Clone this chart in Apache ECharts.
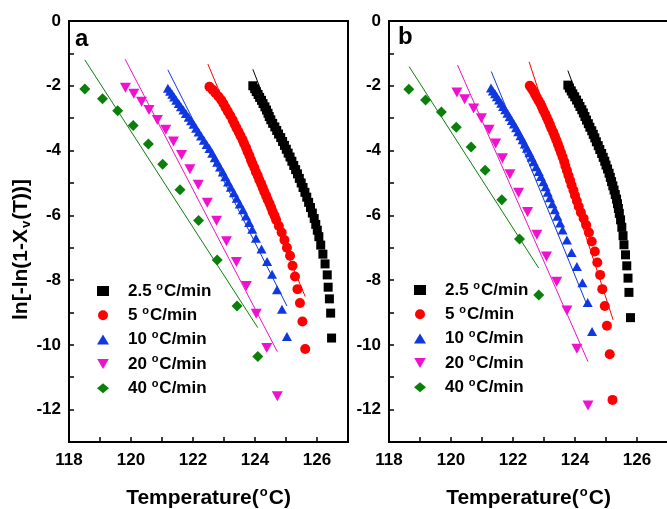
<!DOCTYPE html>
<html><head><meta charset="utf-8">
<script src="https://cdn.jsdelivr.net/npm/echarts@6/dist/echarts.min.js"></script>
<style>html,body{margin:0;padding:0;background:#fff;overflow:hidden}#c{width:690px;height:509px}</style>
</head><body><div id="c"></div>
<script>
// ---- data ----
const rateNames = ['2.5 °C/min', '5 °C/min', '10 °C/min', '20 °C/min', '40 °C/min'];
const xTicks = [118, 120, 122, 124, 126];

// panel a : [T (°C), ln[-ln(1-Xv(T))]]
const a25 = [[123.93,-2.00],[123.99,-2.09],[124.04,-2.18],[124.10,-2.27],[124.15,-2.36],[124.21,-2.45],[124.26,-2.55],[124.32,-2.65],[124.37,-2.75],[124.42,-2.85],[124.46,-2.95],[124.51,-3.05],[124.57,-3.16],[124.64,-3.27],[124.70,-3.38],[124.76,-3.49],[124.83,-3.60],[124.89,-3.72],[124.95,-3.84],[125.01,-3.96],[125.07,-4.08],[125.13,-4.20],[125.19,-4.33],[125.25,-4.46],[125.31,-4.59],[125.37,-4.72],[125.43,-4.86],[125.49,-5.00],[125.55,-5.14],[125.61,-5.29],[125.67,-5.44],[125.73,-5.60],[125.79,-5.76],[125.85,-5.93],[125.91,-6.10],[125.96,-6.28],[126.01,-6.46],[126.06,-6.66],[126.12,-6.92],[126.19,-7.20],[126.26,-7.50],[126.33,-7.84],[126.36,-8.22],[126.40,-8.58],[126.44,-9.02],[126.47,-9.79]];
const a5 = [[122.53,-2.03],[122.63,-2.12],[122.72,-2.22],[122.82,-2.33],[122.91,-2.44],[122.98,-2.55],[123.05,-2.67],[123.12,-2.79],[123.20,-2.92],[123.28,-3.06],[123.34,-3.18],[123.40,-3.30],[123.47,-3.42],[123.53,-3.54],[123.60,-3.67],[123.65,-3.79],[123.71,-3.91],[123.76,-4.04],[123.82,-4.16],[123.87,-4.29],[123.92,-4.41],[123.98,-4.53],[124.03,-4.66],[124.09,-4.78],[124.14,-4.91],[124.20,-5.03],[124.25,-5.15],[124.30,-5.27],[124.36,-5.40],[124.41,-5.52],[124.47,-5.64],[124.52,-5.76],[124.57,-5.89],[124.63,-6.01],[124.68,-6.14],[124.77,-6.33],[124.86,-6.53],[124.95,-6.76],[125.03,-7.00],[125.13,-7.25],[125.21,-7.56],[125.29,-7.89],[125.37,-8.28],[125.45,-8.71],[125.53,-9.28],[125.62,-10.13]];
const a10 = [[121.19,-2.08],[121.26,-2.17],[121.33,-2.26],[121.39,-2.35],[121.46,-2.45],[121.54,-2.55],[121.61,-2.65],[121.69,-2.75],[121.77,-2.86],[121.86,-2.97],[121.94,-3.08],[122.02,-3.19],[122.10,-3.31],[122.18,-3.43],[122.26,-3.55],[122.35,-3.68],[122.44,-3.81],[122.53,-3.94],[122.62,-4.08],[122.70,-4.22],[122.78,-4.36],[122.87,-4.51],[122.96,-4.66],[123.04,-4.81],[123.13,-4.97],[123.22,-5.13],[123.32,-5.30],[123.41,-5.47],[123.51,-5.65],[123.61,-5.83],[123.71,-6.02],[123.81,-6.22],[123.91,-6.43],[124.03,-6.71],[124.21,-7.04],[124.39,-7.43],[124.55,-7.82],[124.71,-8.30],[124.87,-8.90],[125.03,-9.74]];
const a20 = [[119.82,-2.06],[120.09,-2.25],[120.34,-2.49],[120.58,-2.75],[120.85,-3.06],[121.12,-3.36],[121.37,-3.72],[121.63,-4.14],[121.90,-4.58],[122.17,-5.06],[122.46,-5.61],[122.76,-6.17],[123.08,-6.80],[123.40,-7.44],[123.72,-8.18],[124.04,-9.04],[124.38,-10.10],[124.72,-11.59]];
const a40 = [[118.51,-2.10],[119.08,-2.40],[119.57,-2.77],[120.07,-3.23],[120.56,-3.80],[121.02,-4.42],[121.58,-5.21],[122.18,-6.16],[122.78,-7.38],[123.42,-8.80],[124.09,-10.36]];
// panel a : linear fits (end points)
const aFit25 = [[123.93,-1.49],[124.66,-3.30]];
const aFit5 = [[122.48,-1.33],[125.62,-8.51]];
const aFit10 = [[121.19,-1.51],[125.03,-8.80]];
const aFit20 = [[119.81,-1.18],[124.72,-10.21]];
const aFit40 = [[118.51,-1.20],[124.09,-9.47]];

// panel b
const b25 = [[123.77,-1.98],[123.82,-2.07],[123.88,-2.16],[123.93,-2.25],[123.99,-2.34],[124.05,-2.44],[124.11,-2.54],[124.16,-2.64],[124.22,-2.74],[124.27,-2.84],[124.32,-2.95],[124.37,-3.06],[124.43,-3.17],[124.48,-3.28],[124.54,-3.39],[124.59,-3.50],[124.64,-3.61],[124.69,-3.73],[124.75,-3.85],[124.80,-3.97],[124.86,-4.09],[124.91,-4.21],[124.96,-4.33],[125.00,-4.45],[125.05,-4.57],[125.10,-4.70],[125.14,-4.83],[125.18,-4.96],[125.22,-5.09],[125.26,-5.22],[125.30,-5.36],[125.34,-5.50],[125.37,-5.64],[125.40,-5.79],[125.43,-5.94],[125.47,-6.14],[125.51,-6.37],[125.55,-6.63],[125.58,-6.91],[125.63,-7.22],[125.67,-7.56],[125.71,-7.94],[125.74,-8.38],[125.79,-9.16]];
const b5 = [[122.54,-2.00],[122.60,-2.08],[122.66,-2.17],[122.71,-2.26],[122.76,-2.35],[122.82,-2.45],[122.88,-2.55],[122.93,-2.65],[122.98,-2.76],[123.04,-2.87],[123.09,-2.98],[123.14,-3.09],[123.19,-3.20],[123.24,-3.32],[123.30,-3.44],[123.35,-3.56],[123.40,-3.68],[123.45,-3.81],[123.50,-3.94],[123.55,-4.07],[123.60,-4.20],[123.65,-4.34],[123.69,-4.48],[123.74,-4.62],[123.79,-4.77],[123.84,-4.92],[123.89,-5.07],[123.95,-5.23],[124.00,-5.39],[124.06,-5.56],[124.12,-5.73],[124.19,-5.91],[124.28,-6.10],[124.36,-6.30],[124.45,-6.53],[124.54,-6.81],[124.64,-7.12],[124.72,-7.46],[124.81,-7.84],[124.88,-8.28],[124.96,-8.80],[125.03,-9.41],[125.12,-10.29],[125.21,-11.70]];
const b10 = [[121.29,-2.07],[121.35,-2.16],[121.42,-2.25],[121.48,-2.34],[121.55,-2.44],[121.62,-2.54],[121.68,-2.64],[121.75,-2.74],[121.82,-2.85],[121.89,-2.96],[121.96,-3.07],[122.03,-3.18],[122.10,-3.30],[122.17,-3.42],[122.24,-3.54],[122.31,-3.67],[122.38,-3.80],[122.45,-3.93],[122.53,-4.07],[122.60,-4.21],[122.67,-4.35],[122.75,-4.50],[122.83,-4.65],[122.90,-4.80],[122.98,-4.96],[123.05,-5.12],[123.12,-5.29],[123.19,-5.46],[123.27,-5.64],[123.35,-5.83],[123.43,-6.03],[123.52,-6.24],[123.60,-6.45],[123.74,-6.76],[123.89,-7.15],[124.06,-7.58],[124.24,-8.08],[124.41,-8.69],[124.55,-9.59]];
const b20 = [[120.19,-2.21],[120.44,-2.42],[120.73,-2.70],[120.98,-3.00],[121.23,-3.36],[121.44,-3.78],[121.66,-4.24],[121.90,-4.73],[122.18,-5.30],[122.47,-5.90],[122.77,-6.60],[123.08,-7.27],[123.41,-8.05],[123.74,-8.94],[124.06,-10.12],[124.42,-11.87]];
const b40 = [[118.64,-2.11],[119.18,-2.44],[119.69,-2.81],[120.17,-3.28],[120.65,-3.89],[121.10,-4.61],[121.64,-5.52],[122.21,-6.73],[122.83,-8.46]];
const bFit25 = [[123.77,-1.53],[124.45,-3.30]];
const bFit5 = [[122.52,-1.26],[125.23,-9.23]];
const bFit10 = [[121.30,-1.56],[124.41,-8.82]];
const bFit20 = [[120.21,-1.36],[124.42,-10.52]];
const bFit40 = [[118.65,-1.41],[122.83,-7.63]];

// ---- style ----
const FONT = 'Arial, "Liberation Sans", sans-serif';
const colors = ['#000000', '#ff0000', '#1038e0', '#f010d0', '#0a800a'];
const DOWN_TRI = 'path://M0,0 L12,0 L6,10.4 Z';
const symbols = ['rect', 'circle', 'triangle', DOWN_TRI, 'diamond'];
const sizes = [9, 10, [10, 9], [11, 10], 11];

const chart = echarts.init(document.getElementById('c'), null, {renderer: 'canvas'});

function xAxisDef(gi) {
  return {
    type: 'value', gridIndex: gi, min: 118, max: 127, interval: 1,
    name: '{a|Temperature(}{s|o}{a|C)}', nameLocation: 'middle', nameGap: 44,
    nameTextStyle: {rich: {
      a: {fontFamily: FONT, fontWeight: 'bold', fontSize: 21, color: '#000'},
      s: {fontFamily: FONT, fontWeight: 'bold', fontSize: 13, color: '#000', padding: [0, 1, 12, 1]}
    }},
    axisLine: {show: true, onZero: false, lineStyle: {color: '#000', width: 2}},
    axisTick: {show: true, inside: true, length: 5, lineStyle: {color: '#000', width: 1.5}},
    axisLabel: {show: true, margin: 10, color: '#000', fontFamily: FONT, fontWeight: 'bold', fontSize: 17,
      formatter: v => (xTicks.indexOf(v) >= 0 ? String(v) : '')},
    splitLine: {show: false}
  };
}
function yAxisDef(gi, withName) {
  const o = {
    type: 'value', gridIndex: gi, min: -13, max: 0, interval: 1,
    axisLine: {show: true, onZero: false, lineStyle: {color: '#000', width: 2}},
    axisTick: {show: true, inside: true, length: 5, lineStyle: {color: '#000', width: 1.5}},
    axisLabel: {show: true, margin: 8, color: '#000', fontFamily: FONT, fontWeight: 'bold', fontSize: 17,
      formatter: v => (Math.round(v) % 2 === 0 ? String(v) : '')},
    splitLine: {show: false}
  };
  if (withName) {
    o.name = '{a|ln[-ln(1-X}{v|v}{a|(T))]}';
    o.nameLocation = 'middle';
    o.nameGap = 36;
    o.nameTextStyle = {padding: [0, 36, 0, 0], rich: {
      a: {fontFamily: FONT, fontWeight: 'bold', fontSize: 21, color: '#000'},
      v: {fontFamily: FONT, fontWeight: 'bold', fontSize: 13, color: '#000', padding: [10, 1, 0, 1]}
    }};
  }
  return o;
}

const panels = [[a25, a5, a10, a20, a40], [b25, b5, b10, b20, b40]];
const fits = [[aFit25, aFit5, aFit10, aFit20, aFit40], [bFit25, bFit5, bFit10, bFit20, bFit40]];

const series = [];
panels.forEach((sets, gi) => {
  sets.forEach((d, i) => {
    series.push({
      type: 'scatter', name: rateNames[i], xAxisIndex: gi, yAxisIndex: gi, data: d,
      symbol: symbols[i], symbolSize: sizes[i], symbolKeepAspect: false,
      itemStyle: {color: colors[i], opacity: 1}, z: 2, emphasis: {disabled: true}
    });
  });
});
fits.forEach((sets, gi) => {
  sets.forEach((d, i) => {
    series.push({
      type: 'line', name: 'fit' + gi + '_' + i, xAxisIndex: gi, yAxisIndex: gi, data: d,
      showSymbol: false, symbol: 'none', lineStyle: {color: colors[i], width: 1}, z: 3,
      silent: true, animation: false
    });
  });
});

function legendDef(left, top) {
  return {
    orient: 'vertical', left: left, top: top, data: rateNames, padding: 0,
    itemWidth: 12, itemHeight: 10, itemGap: 4.3, symbolKeepAspect: true,
    selectedMode: false,
    formatter: n => '{p|' + n.split(' ')[0] + ' }{s|o}{t|C/min}',
    textStyle: {rich: {
      p: {fontFamily: FONT, fontWeight: 'bold', fontSize: 17, color: '#000', lineHeight: 20, padding: [0, 0, 0, 14]},
      t: {fontFamily: FONT, fontWeight: 'bold', fontSize: 17, color: '#000', lineHeight: 20},
      s: {fontFamily: FONT, fontWeight: 'bold', fontSize: 11, color: '#000', lineHeight: 11, padding: [0, 1, 9, 0]}
    }}
  };
}

chart.setOption({
  animation: false,
  backgroundColor: '#fff',
  grid: [
    {left: 69, top: 21, width: 279, height: 421, show: true, borderColor: '#000', borderWidth: 2, containLabel: false, outerBoundsMode: 'none'},
    {left: 389, top: 21, width: 279, height: 421, show: true, borderColor: '#000', borderWidth: 2, containLabel: false, outerBoundsMode: 'none'}
  ],
  xAxis: [xAxisDef(0), xAxisDef(1)],
  yAxis: [yAxisDef(0, true), yAxisDef(1, false)],
  legend: [legendDef(97, 281), legendDef(414, 280)],
  graphic: [
    {type: 'text', left: 75, top: 27, style: {text: 'a', fontFamily: FONT, fontWeight: 'bold', fontSize: 24, fill: '#000'}},
    {type: 'text', left: 398, top: 25, style: {text: 'b', fontFamily: FONT, fontWeight: 'bold', fontSize: 24, fill: '#000'}}
  ],
  series: series
});
</script>
</body></html>
